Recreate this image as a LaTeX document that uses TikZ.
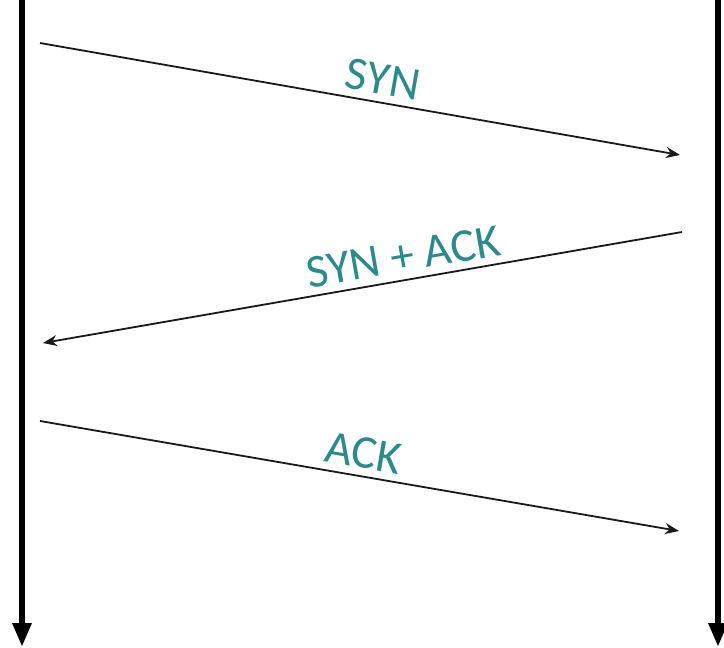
\documentclass[tikz,border=0pt]{standalone}
\usepackage{fontspec}
\setmainfont{Carlito}
\usetikzlibrary{arrows.meta}
\definecolor{cMsg}{HTML}{2E8A8A}
\tikzset{
  lifeline/.style={line width=6pt, draw=black, -{Triangle[length=24pt, width=18pt]}},
  msg/.style={line width=1.8pt, draw=black!90, -{Stealth[length=14pt, width=11pt]}},
  msglabel/.style={font=\fontsize{47}{50}\selectfont, text=cMsg, sloped,
    above=5pt, inner sep=2pt},
}
\begin{document}
\begin{tikzpicture}[x=1pt, y=-1pt]
  \useasboundingbox (0,0) rectangle (724,648);

  % ==================================================================
  % Lifelines: client (left) and server (right)
  % ==================================================================
  \coordinate (clientTop) at (22,0);
  \coordinate (clientEnd) at (22,647);
  \coordinate (serverTop) at (718,0);
  \coordinate (serverEnd) at (718,647);

  \draw[lifeline] (clientTop) -- (clientEnd);
  \draw[lifeline] (serverTop) -- (serverEnd);

  % ==================================================================
  % Handshake messages
  % ==================================================================
  \coordinate (synFrom)    at (40,43);
  \coordinate (synTo)      at (680,155);
  \coordinate (synackFrom) at (682,232);
  \coordinate (synackTo)   at (43,343);
  \coordinate (ackFrom)    at (40,421);
  \coordinate (ackTo)      at (679,531);

  \draw[msg] (synFrom) -- (synTo)
    node[msglabel, pos=0.53] (synLabel) {SYN};
  \draw[msg] (synackFrom) -- (synackTo)
    node[msglabel, pos=0.43] (synackLabel) {SYN + ACK};
  \draw[msg] (ackFrom) -- (ackTo)
    node[msglabel, pos=0.50] (ackLabel) {ACK};

\end{tikzpicture}
\end{document}
